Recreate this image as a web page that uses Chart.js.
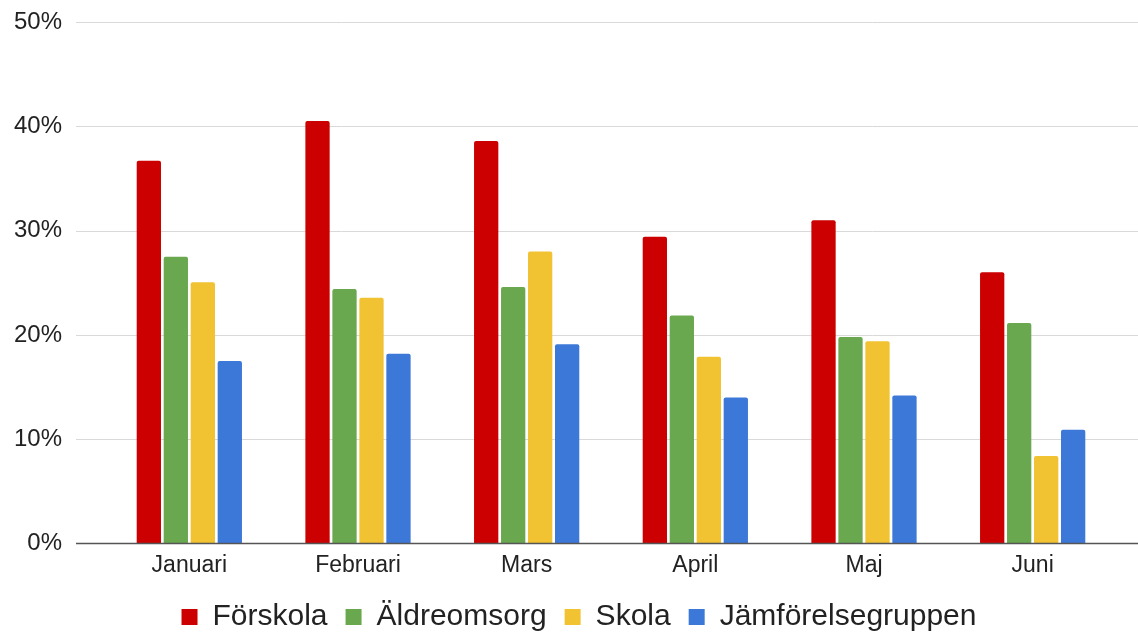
<!DOCTYPE html>
<html>
<head>
<meta charset="utf-8">
<script src="https://cdn.jsdelivr.net/npm/chart.js@4"></script>
<style>
  html, body { margin: 0; padding: 0; background: #ffffff; }
  #wrap { width: 1138px; height: 633px; }
</style>
</head>
<body>
<div id="wrap"><canvas id="c"></canvas></div>
<script>
const categories = ["Januari", "Februari", "Mars", "April", "Maj", "Juni"];
const seriesNames = ["Förskola", "Äldreomsorg", "Skola", "Jämförelsegruppen"];
const forskola = [36.7, 40.5, 38.6, 29.4, 31.0, 26.0];
const aldreomsorg = [27.5, 24.4, 24.6, 21.85, 19.8, 21.15];
const skola = [25.05, 23.55, 28.0, 17.9, 19.4, 8.4];
const jamforelse = [17.5, 18.2, 19.1, 14.0, 14.2, 10.9];
const yTicks = [0, 10, 20, 30, 40, 50];
const colors = ["#cc0000", "#6aa84f", "#f1c232", "#3c78d8"];

const FONT = "'Liberation Sans', Arial, sans-serif";

const gridPlugin = {
  id: 'extGrid',
  beforeDatasetsDraw(chart) {
    const ctx = chart.ctx, y = chart.scales.y;
    ctx.save();
    ctx.strokeStyle = '#d9d9d9';
    ctx.lineWidth = 1;
    yTicks.forEach(v => {
      if (v === 0) return;
      const py = Math.round(y.getPixelForValue(v)) + 0.5;
      ctx.beginPath();
      ctx.moveTo(76, py);
      ctx.lineTo(chart.width, py);
      ctx.stroke();
    });
    ctx.restore();
  },
  afterDatasetsDraw(chart) {
    const ctx = chart.ctx, y = chart.scales.y;
    const py = y.getPixelForValue(0);
    ctx.save();
    ctx.strokeStyle = '#555555';
    ctx.lineWidth = 1.5;
    ctx.beginPath();
    ctx.moveTo(76, py);
    ctx.lineTo(chart.width, py);
    ctx.stroke();
    ctx.restore();
  }
};

const dataArrays = [forskola, aldreomsorg, skola, jamforelse];

new Chart(document.getElementById('c'), {
  type: 'bar',
  data: {
    labels: categories,
    datasets: seriesNames.map((name, i) => ({
      label: name,
      data: dataArrays[i],
      backgroundColor: colors[i],
      borderWidth: 0,
      borderRadius: { topLeft: 2, topRight: 2, bottomLeft: 0, bottomRight: 0 },
      borderSkipped: 'bottom',
      categoryPercentage: 0.64,
      barPercentage: 0.9
    }))
  },
  options: {
    responsive: true,
    maintainAspectRatio: false,
    animation: false,
    devicePixelRatio: 1,
    layout: { padding: { left: 41, right: 21, top: 22, bottom: -9 } },
    plugins: {
      legend: {
        position: 'bottom',
        labels: {
          boxWidth: 16,
          boxHeight: 16,
          padding: 18,
          color: '#222222',
          font: { family: FONT, size: 30 }
        }
      },
      tooltip: { enabled: false }
    },
    scales: {
      x: {
        grid: { display: false, drawTicks: false },
        border: { display: false },
        ticks: { color: '#222222', padding: 8, font: { family: FONT, size: 23 } },
        afterFit(s) { s.height = 40.5; }
      },
      y: {
        min: 0,
        max: 50,
        grid: { display: false, drawTicks: false },
        border: { display: false },
        afterBuildTicks(s) { s.ticks = yTicks.map(v => ({ value: v })); },
        ticks: {
          color: '#222222',
          mirror: true,
          crossAlign: 'far',
          padding: -91,
          font: { family: FONT, size: 24 },
          callback: v => v + '%'
        },
        afterFit(s) { s.width = 64; }
      }
    }
  },
  plugins: [gridPlugin]
});
</script>
</body>
</html>
